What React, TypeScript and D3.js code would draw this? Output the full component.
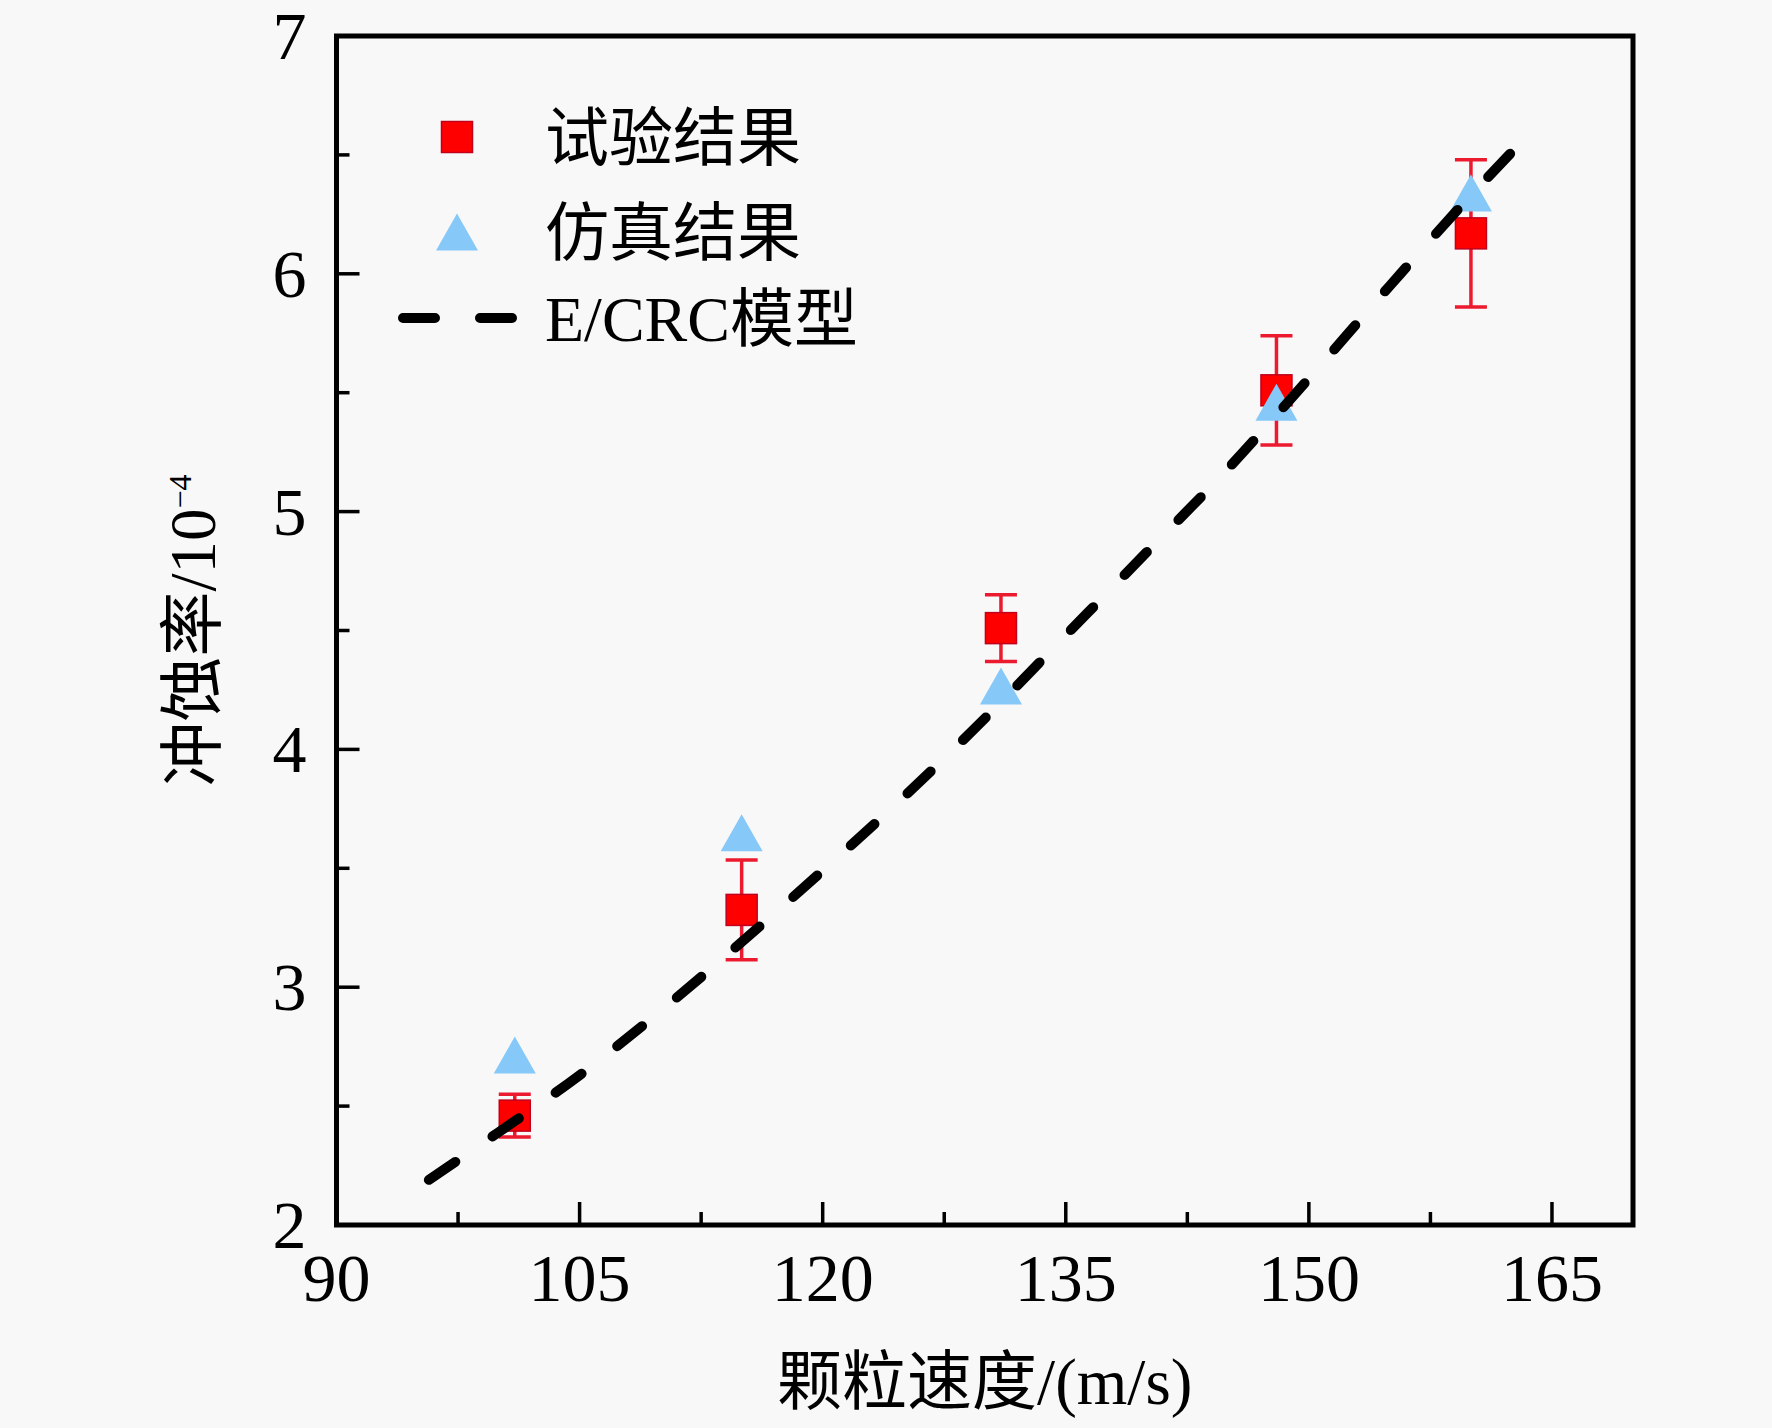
import { useEffect } from "react";
import * as d3 from "d3";

// particle speed (m/s)
const speeds = [101, 115, 131, 148, 160];
// measured erosion rate (x10^-4) and its error
const testValues = [2.46, 3.325, 4.51, 5.51, 6.17];
const testErrors = [0.09, 0.21, 0.14, 0.23, 0.31];
// simulated erosion rate
const simValues = [2.715, 3.65, 4.267, 5.46, 6.34];
// E/CRC model curve
const modelSpeeds = [95.7, 100, 105, 110, 115, 120, 125, 130, 135, 140, 145, 150, 155, 160, 163.2];
const modelValues = [2.19, 2.39, 2.63, 2.9, 3.19, 3.49, 3.8, 4.13, 4.48, 4.83, 5.18, 5.56, 5.95, 6.33, 6.56];

const xTicks = [90, 105, 120, 135, 150, 165];
const xMinorTicks = [97.5, 112.5, 127.5, 142.5, 157.5];
const yTicks = [2, 3, 4, 5, 6, 7];
const yMinorTicks = [2.5, 3.5, 4.5, 5.5, 6.5];

const legendItems = ["试验结果", "仿真结果", "E/CRC模型"];

const W = 1772;
const H = 1428;
const margin = { top: 36, right: 139, bottom: 203, left: 336.5 };
const latin = "'Liberation Serif', 'Times New Roman', serif";
const mixed = "'Liberation Serif', 'Noto Sans CJK SC', serif";

const RED = "#ff0000";
const BAR = "#ec1a2e";
const BLUE = "#86c8f8";

export default function App() {
  useEffect(() => {
    document.body.style.margin = "0";
  }, []);

  const x = d3.scaleLinear().domain([90, 170]).range([margin.left, W - margin.right]);
  const y = d3.scaleLinear().domain([2, 7]).range([H - margin.bottom, margin.top]);
  const x0 = x.range()[0];
  const x1 = x.range()[1];
  const yb = y.range()[0];
  const yt = y.range()[1];

  const line = d3
    .line<number>()
    .x((_, i) => x(modelSpeeds[i]))
    .y((d) => y(d))
    .curve(d3.curveMonotoneX);

  const sq = 31;
  const triW = 42;
  const triH = 37;
  const tri = (cx: number, cy: number) =>
    `M${cx},${cy - triH / 2}L${cx + triW / 2},${cy + triH / 2}L${cx - triW / 2},${cy + triH / 2}Z`;

  const legX = 457;
  const legRows = [137, 232, 318];
  const dash = "32,45";

  return (
    <svg width={W} height={H} style={{ display: "block", background: "#f8f8f8" }}>
      <rect x={0} y={0} width={W} height={H} fill="#f8f8f8" />

      {/* ticks */}
      {xTicks.map((t) => (
        <line key={"xt" + t} x1={x(t)} x2={x(t)} y1={yb} y2={yb - 23} stroke="#000" strokeWidth={3.5} />
      ))}
      {xMinorTicks.map((t) => (
        <line key={"xm" + t} x1={x(t)} x2={x(t)} y1={yb} y2={yb - 13} stroke="#000" strokeWidth={3.5} />
      ))}
      {yTicks.map((t) => (
        <line key={"yt" + t} x1={x0} x2={x0 + 23} y1={y(t)} y2={y(t)} stroke="#000" strokeWidth={3.5} />
      ))}
      {yMinorTicks.map((t) => (
        <line key={"ym" + t} x1={x0} x2={x0 + 13} y1={y(t)} y2={y(t)} stroke="#000" strokeWidth={3.5} />
      ))}

      {/* frame */}
      <rect x={x0} y={yt} width={x1 - x0} height={yb - yt} fill="none" stroke="#000" strokeWidth={5} />

      {/* tick labels */}
      {xTicks.map((t) => (
        <text key={"xl" + t} x={x(t)} y={yb + 76} textAnchor="middle" fontFamily={latin} fontSize={68}>
          {t}
        </text>
      ))}
      {yTicks.map((t) => (
        <text key={"yl" + t} x={x0 - 30} y={y(t) + 23} textAnchor="end" fontFamily={latin} fontSize={68}>
          {t}
        </text>
      ))}

      {/* axis titles */}
      <text x={(x0 + x1) / 2} y={1404} textAnchor="middle" fontFamily={mixed} fontSize={65}>
        颗粒速度/(m/s)
      </text>
      <text
        transform={`translate(215,${(yt + yb) / 2}) rotate(-90)`}
        textAnchor="middle"
        fontFamily={mixed}
        fontSize={65}
      >
        冲蚀率/10
        <tspan fontSize={32} dy={-24}>
          −4
        </tspan>
      </text>

      {/* error bars */}
      {speeds.map((s, i) => {
        const lo = y(testValues[i] - testErrors[i]);
        const hi = y(testValues[i] + testErrors[i]);
        const cx = x(s);
        return (
          <g key={"eb" + s} stroke={BAR} strokeWidth={3.5}>
            <line x1={cx} x2={cx} y1={lo} y2={hi} />
            <line x1={cx - 16} x2={cx + 16} y1={lo} y2={lo} />
            <line x1={cx - 16} x2={cx + 16} y1={hi} y2={hi} />
          </g>
        );
      })}

      {/* test squares */}
      {speeds.map((s, i) => (
        <rect
          key={"sq" + s}
          x={x(s) - sq / 2}
          y={y(testValues[i]) - sq / 2}
          width={sq}
          height={sq}
          fill={RED}
          stroke="#c0001c"
          strokeWidth={1.5}
        />
      ))}

      {/* simulation triangles */}
      {speeds.map((s, i) => (
        <path key={"tr" + s} d={tri(x(s), y(simValues[i]))} fill={BLUE} />
      ))}

      {/* model curve */}
      <path
        d={line(modelValues) || ""}
        fill="none"
        stroke="#000"
        strokeWidth={10}
        strokeDasharray={dash}
        strokeLinecap="round"
      />

      {/* legend */}
      <rect x={legX - sq / 2} y={legRows[0] - sq / 2} width={sq} height={sq} fill={RED} stroke="#c0001c" strokeWidth={1.5} />
      <path d={tri(legX, legRows[1])} fill={BLUE} />
      <line
        x1={403}
        x2={512}
        y1={legRows[2]}
        y2={legRows[2]}
        stroke="#000"
        strokeWidth={10}
        strokeDasharray={dash}
        strokeLinecap="round"
      />
      {legendItems.map((t, i) => (
        <text key={t} x={545} y={legRows[i] + 23} fontFamily={mixed} fontSize={64}>
          {t}
        </text>
      ))}
    </svg>
  );
}
